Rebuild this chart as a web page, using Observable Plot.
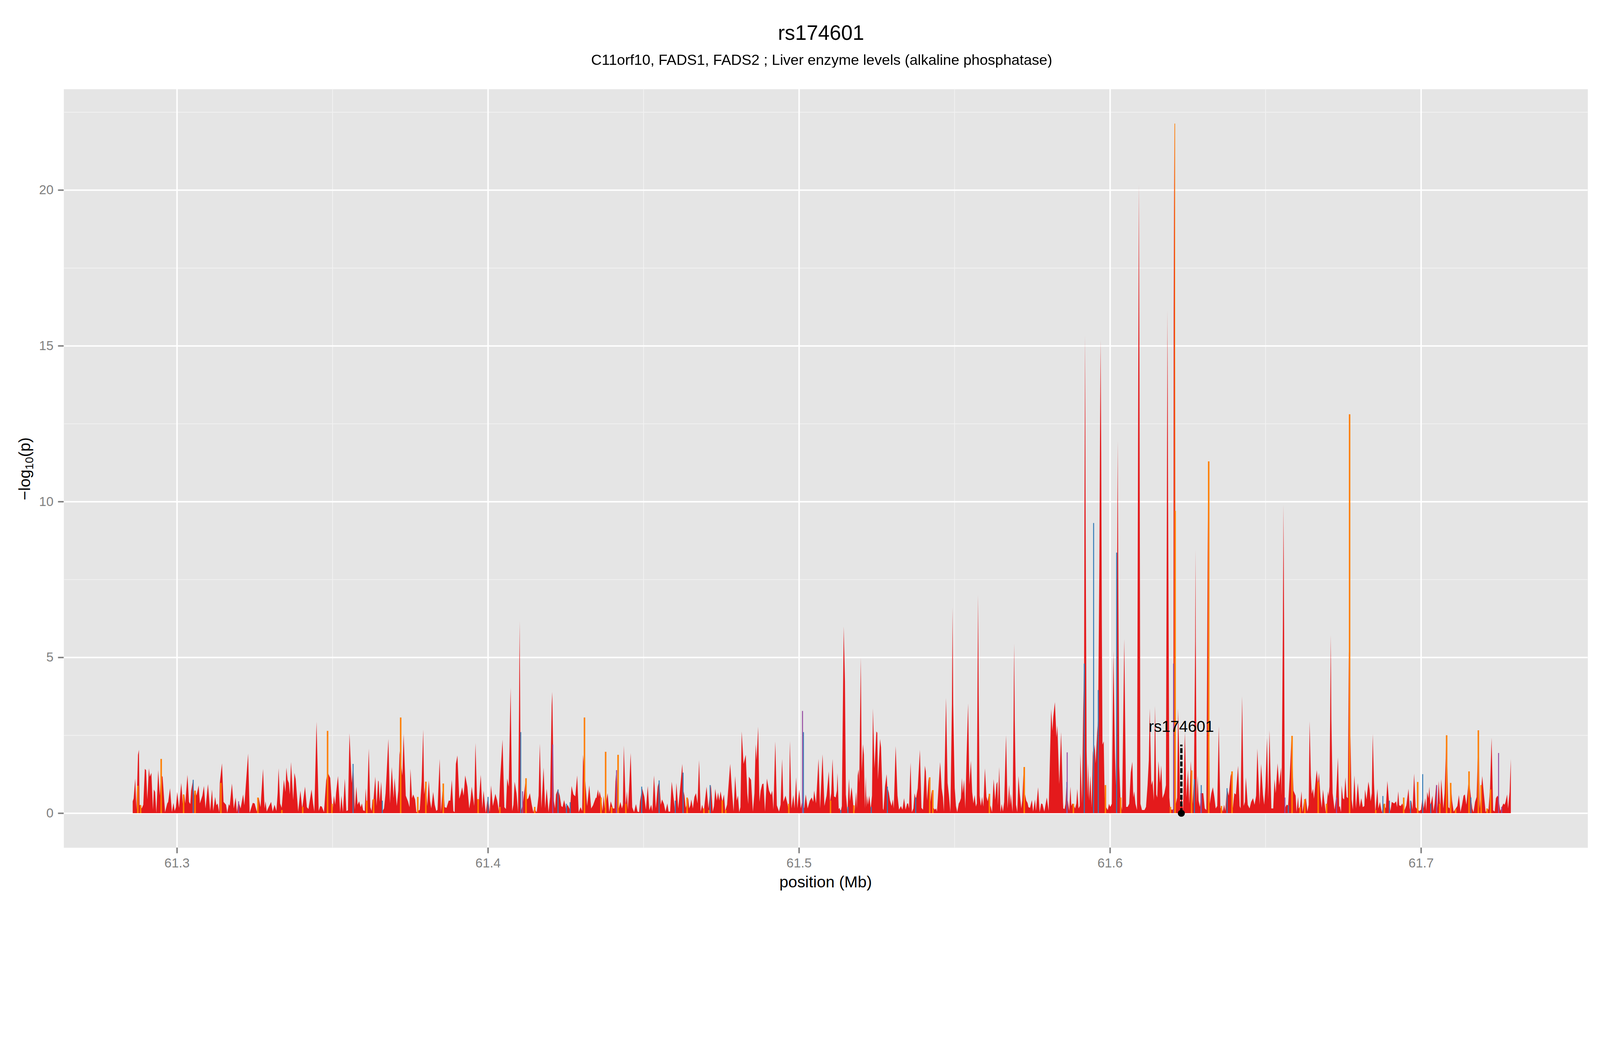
<!DOCTYPE html>
<html>
<head>
<meta charset="utf-8">
<script src="https://cdn.jsdelivr.net/npm/d3@7"></script>
<script src="https://cdn.jsdelivr.net/npm/@observablehq/plot@0.6"></script>
<style>
  html, body { margin: 0; padding: 0; overflow: hidden; background: white; font-family: "Liberation Sans", Arial, sans-serif; }
  #page { width: 4800px; height: 2700px; transform-origin: 0 0; }
  #head { position: relative; width: 4800px; height: 200px; }
  #head div { position: absolute; transform: translateX(-50%); white-space: nowrap; line-height: 1; color: black; }
  #title { left: 2463px; top: 68px; font-size: 62px; }
  #subtitle { left: 2465px; top: 157px; font-size: 44px; }
</style>
</head>
<body>
<div id="page">
  <div id="head">
    <div id="title">rs174601</div>
    <div id="subtitle">C11orf10, FADS1, FADS2 ; Liver enzyme levels (alkaline phosphatase)</div>
  </div>
  <div id="chart"></div>
</div>
<script>
// SNP positions (Mb) and -log10(p)
const redPos = [
  61.2858,61.2861,61.2866,61.2870,61.2875,61.2878,61.2880,61.2883,61.2887,61.2892,61.2897,61.2901,61.2905,61.2910,61.2913,61.2918,61.2923,61.2926,61.2930,61.2934,
  61.2940,61.2945,61.2949,61.2954,61.2962,61.2969,61.2972,61.2978,61.2984,61.2989,61.2993,61.2997,61.3001,61.3007,61.3014,61.3019,61.3024,61.3027,61.3034,61.3039,
  61.3043,61.3046,61.3052,61.3056,61.3059,61.3063,61.3070,61.3074,61.3082,61.3087,61.3092,61.3100,61.3107,61.3113,61.3117,61.3123,61.3127,61.3131,61.3136,61.3138,
  61.3145,61.3150,61.3158,61.3162,61.3167,61.3170,61.3177,61.3183,61.3189,61.3193,61.3198,61.3205,61.3213,61.3217,61.3229,61.3234,61.3244,61.3250,61.3257,61.3263,
  61.3269,61.3277,61.3282,61.3285,61.3289,61.3293,61.3303,61.3308,61.3314,61.3320,61.3324,61.3327,61.3332,61.3337,61.3344,61.3349,61.3352,61.3356,61.3360,61.3363,
  61.3367,61.3374,61.3378,61.3382,61.3390,61.3397,61.3403,61.3412,61.3418,61.3423,61.3433,61.3438,61.3442,61.3449,61.3456,61.3461,61.3466,61.3473,61.3480,61.3485,
  61.3493,61.3500,61.3505,61.3509,61.3512,61.3518,61.3525,61.3529,61.3534,61.3540,61.3545,61.3550,61.3555,61.3562,61.3567,61.3572,61.3577,61.3581,61.3586,61.3591,
  61.3595,
  61.3599,61.3604,61.3607,61.3611,61.3617,61.3622,61.3626,61.3629,61.3632,61.3638,61.3642,61.3647,61.3649,61.3652,61.3657,61.3661,61.3666,61.3671,61.3674,61.3680,
  61.3685,61.3691,61.3697,61.3700,61.3707,61.3712,61.3716,61.3725,61.3729,61.3736,61.3743,61.3748,61.3751,61.3756,61.3760,61.3766,61.3770,61.3781,61.3787,61.3792,
  61.3795,61.3800,61.3805,61.3810,61.3814,61.3818,61.3824,61.3829,61.3834,61.3838,61.3845,61.3849,61.3856,61.3861,61.3867,61.3874,61.3879,61.3884,61.3889,61.3893,
  61.3897,61.3902,61.3908,61.3913,61.3917,61.3922,61.3927,61.3934,61.3940,61.3944,61.3948,61.3956,61.3960,61.3965,61.3969,61.3977,61.3982,61.3986,61.3993,61.4000,
  61.4006,61.4010,61.4016,61.4024,61.4030,61.4035,61.4039,61.4047,61.4053,61.4058,61.4062,61.4067,61.4073,61.4078,61.4082,61.4086,61.4092,61.4097,61.4100,61.4102,61.4104,61.4106,
  61.4112,61.4122,61.4126,61.4130,61.4135,61.4141,61.4146,61.4149,61.4157,61.4163,61.4167,61.4172,61.4179,61.4184,61.4189,61.4195,61.4200,61.4205,61.4207,61.4212,
  61.4216,61.4219,61.4225,61.4231,61.4236,61.4240,61.4245,61.4251,61.4256,61.4260,61.4264,61.4269,61.4275,61.4281,61.4287,61.4292,61.4298,61.4303,61.4306,61.4315,
  61.4319,61.4326,61.4332,61.4338,61.4347,
  61.4349,61.4354,61.4357,61.4359,61.4364,61.4369,61.4372,61.4376,61.4385,61.4390,61.4395,61.4402,61.4407,61.4410,61.4413,61.4416,61.4421,61.4426,61.4431,61.4434,
  61.4437,61.4443,61.4447,61.4450,61.4455,61.4459,61.4464,61.4470,61.4476,61.4481,61.4486,61.4489,61.4496,61.4503,61.4508,61.4514,61.4519,61.4525,61.4529,61.4534,
  61.4540,61.4546,61.4551,61.4556,61.4560,61.4566,61.4571,61.4577,61.4581,61.4586,61.4591,61.4598,61.4602,61.4606,61.4612,61.4620,61.4625,61.4628,61.4632,61.4636,
  61.4644,61.4647,61.4651,61.4654,61.4659,61.4664,61.4669,61.4674,61.4679,61.4684,61.4689,61.4694,61.4703,61.4709,61.4717,61.4723,61.4727,61.4731,61.4736,61.4740,
  61.4744,61.4748,61.4754,61.4759,61.4763,61.4769,61.4779,61.4785,61.4790,61.4795,61.4800,61.4804,61.4808,61.4812,61.4816,61.4822,61.4829,61.4834,61.4837,61.4839,
  61.4846,61.4852,61.4857,61.4861,61.4864,61.4869,61.4873,61.4877,61.4882,61.4886,61.4891,61.4897,61.4904,61.4910,61.4914,61.4918,61.4924,61.4929,61.4936,61.4941,
  61.4946,61.4950,61.4957,61.4963,61.4968,61.4971,61.4976,61.4982,61.4986,61.4991,61.4995,61.5001,61.5006,61.5011,61.5017,61.5022,61.5028,61.5035,61.5041,61.5046,
  61.5049,61.5055,61.5063,61.5068,61.5076,61.5082,61.5089,61.5096,
  61.5100,61.5104,61.5108,61.5113,61.5118,61.5122,61.5124,61.5128,61.5131,61.5134,61.5138,61.5144,61.5148,61.5151,61.5156,61.5161,61.5164,61.5169,61.5171,61.5175,
  61.5179,61.5184,61.5186,61.5189,61.5192,61.5194,61.5199,61.5202,61.5206,61.5209,61.5212,61.5215,61.5217,61.5219,61.5222,61.5226,61.5231,61.5235,61.5238,61.5243,
  61.5249,61.5252,61.5254,61.5261,61.5264,61.5270,61.5272,61.5277,61.5282,61.5284,61.5289,61.5293,61.5298,61.5302,61.5305,61.5311,61.5317,61.5322,61.5328,61.5333,
  61.5338,61.5343,61.5348,61.5351,61.5354,61.5359,61.5363,61.5368,61.5372,61.5376,61.5382,61.5389,61.5394,61.5399,61.5405,61.5408,61.5412,61.5417,61.5423,61.5427,
  61.5431,61.5437,61.5441,61.5444,61.5449,61.5454,61.5459,61.5463,61.5466,61.5473,61.5478,61.5482,61.5487,61.5492,61.5494,61.5496,61.5501,61.5505,61.5509,61.5514,61.5517,61.5521,
  61.5524,61.5527,61.5531,61.5535,61.5539,61.5544,61.5548,61.5553,61.5557,61.5561,61.5565,61.5569,61.5572,61.5574,61.5576,61.5578,61.5581,61.5585,61.5589,61.5593,61.5598,61.5603,
  61.5607,61.5611,61.5614,61.5616,61.5621,61.5626,61.5631,61.5635,61.5638,61.5640,61.5644,61.5648,61.5652,61.5656,61.5660,61.5666,61.5671,61.5676,61.5679,61.5681,
  61.5687,61.5690,61.5692,61.5694,61.5698,61.5702,61.5706,61.5710,61.5715,61.5718,61.5723,61.5727,61.5731,61.5735,61.5738,61.5743,61.5749,61.5753,61.5759,61.5762,61.5769,61.5774,
  61.5779,61.5783,61.5789,61.5797,61.5803,61.5811,61.5815,61.5818,61.5823,61.5828,61.5831,61.5837,61.5843,61.5849,
  61.5850,61.5854,61.5857,61.5860,61.5862,61.5865,61.5869,61.5873,61.5876,61.5879,61.5883,61.5888,61.5892,61.5895,61.5899,61.5903,61.5905,61.5910,61.5914,61.5917,
  61.5918,61.5920,61.5922,61.5925,61.5928,61.5930,61.5933,61.5937,61.5941,61.5945,61.5947,61.5951,61.5954,61.5959,61.5962,61.5966,61.5968,61.5970,61.5972,61.5974,
  61.5976,61.5980,61.5983,61.5987,61.5993,61.5997,61.6001,61.6006,61.6011,61.6016,61.6019,61.6023,61.6025,61.6027,61.6030,61.6034,61.6039,61.6046,61.6052,61.6057,
  61.6062,61.6067,61.6072,61.6075,61.6078,61.6082,61.6087,61.6091,61.6093,61.6095,61.6098,61.6103,61.6111,61.6116,61.6121,61.6125,61.6128,61.6133,61.6137,61.6141,
  61.6145,61.6149,61.6152,61.6156,61.6161,61.6165,61.6169,61.6175,61.6180,61.6183,61.6185,61.6187,61.6191,61.6194,61.6200,61.6204,61.6205,61.6207,61.6209,61.6212,
  61.6216,61.6219,61.6223,61.6226,61.6230,61.6235,61.6241,61.6246,61.6251,61.6255,61.6260,61.6266,61.6270,61.6274,61.6275,61.6276,61.6279,61.6282,61.6285,61.6289,
  61.6294,61.6300,61.6305,61.6310,61.6313,61.6315,61.6317,61.6321,61.6326,61.6331,61.6336,61.6340,61.6345,61.6350,61.6355,61.6358,61.6363,61.6367,61.6371,61.6376,
  61.6382,61.6388,61.6392,61.6395,61.6400,61.6405,61.6412,61.6417,61.6420,61.6425,61.6430,61.6434,61.6437,61.6443,61.6449,61.6454,61.6460,61.6465,61.6470,61.6474,
  61.6481,61.6486,61.6492,61.6496,61.6500,61.6505,61.6509,61.6513,61.6519,61.6525,61.6529,61.6533,61.6539,61.6544,61.6550,61.6552,61.6556,61.6558,61.6560,61.6562,
  61.6568,61.6573,61.6578,61.6584,61.6590,61.6597,
  61.6600,61.6605,61.6607,61.6611,61.6616,61.6619,61.6624,61.6630,61.6635,61.6639,61.6642,61.6646,61.6649,61.6653,61.6656,61.6661,61.6665,61.6669,61.6672,61.6677,
  61.6681,61.6685,61.6689,61.6694,61.6696,61.6701,61.6703,61.6706,61.6708,61.6710,61.6712,61.6716,61.6722,61.6727,61.6733,61.6737,61.6739,61.6743,61.6745,61.6749,61.6753,61.6757,
  61.6761,61.6765,61.6768,61.6777,61.6781,61.6786,61.6791,61.6794,61.6797,61.6803,61.6808,61.6813,61.6818,61.6820,61.6825,61.6831,61.6835,61.6838,61.6842,61.6845,
  61.6849,61.6853,61.6860,61.6863,61.6868,61.6874,61.6880,61.6887,61.6892,61.6897,61.6902,61.6906,61.6914,61.6920,61.6923,61.6927,61.6930,61.6935,61.6940,61.6947,
  61.6953,61.6960,61.6964,61.6969,61.6973,61.6978,61.6983,61.6989,61.6995,61.7000,61.7005,61.7009,61.7014,61.7017,61.7020,61.7024,61.7027,61.7030,61.7033,61.7037,
  61.7040,61.7044,61.7049,61.7053,61.7057,61.7062,61.7065,61.7072,61.7076,61.7082,61.7088,61.7092,61.7096,61.7100,61.7105,61.7111,61.7117,61.7122,61.7127,61.7132,
  61.7137,61.7141,61.7146,61.7150,61.7154,61.7160,61.7165,61.7169,61.7174,61.7179,61.7185,61.7189,61.7193,61.7197,61.7202,61.7208,61.7213,61.7217,61.7222,61.7227,
  61.7232,61.7237,61.7241,61.7246,61.7249,61.7255,61.7260,61.7265,61.7269,61.7272,61.7277,61.7280,61.7285,61.7289
];
const redLogP = [
  0.38,0.47,1.11,0.11,1.87,2.03,0.25,0.27,0.15,0.27,1.42,1.38,0.44,1.44,1.17,1.29,0.11,0.76,0.68,0.01,
  1.38,0.56,1.21,1.17,0.03,0.31,0.36,0.80,0.03,0.33,0.07,0.19,0.68,0.17,0.97,0.31,0.60,0.31,1.23,0.36,
  0.29,0.72,1.07,0.56,0.74,0.56,0.89,0.31,0.56,0.87,0.15,0.93,0.07,0.76,0.07,0.52,0.25,0.31,0.03,0.97,
  1.60,0.36,0.27,0.01,0.29,0.23,0.95,0.15,0.50,0.03,0.38,0.15,0.60,0.25,1.91,0.01,0.33,0.31,0.05,0.50,
  0.19,1.42,0.15,0.38,0.05,0.15,0.36,0.05,0.27,0.07,0.64,1.44,0.31,0.17,1.07,0.68,1.46,1.07,0.97,0.60,
  1.64,0.42,1.29,1.09,0.05,0.72,0.15,0.85,0.19,0.13,0.76,0.31,0.05,2.93,0.07,0.23,0.21,0.03,1.05,1.30,
  1.13,0.03,0.56,0.27,0.66,1.19,0.03,0.56,0.03,1.11,0.07,0.09,2.56,0.97,1.58,0.11,0.85,0.27,0.38,0.19,
  0.31,
  0.09,0.07,0.80,0.03,2.07,0.19,0.07,0.44,0.40,1.17,0.23,1.05,1.01,0.36,1.01,0.07,0.15,0.64,1.19,2.38,
  0.31,1.48,0.48,1.13,0.23,0.72,1.99,1.21,2.54,0.56,0.38,0.19,1.42,0.48,0.60,0.44,0.03,0.11,1.01,2.68,
  0.60,1.01,0.23,1.05,0.40,0.15,0.68,0.27,0.07,0.11,1.74,0.03,0.95,0.19,0.17,0.40,0.40,1.07,0.07,0.03,
  1.58,1.85,0.46,0.64,0.83,0.56,1.21,0.85,0.15,0.40,0.85,0.23,2.25,0.52,0.11,1.23,0.15,0.72,0.01,0.52,
  0.03,0.89,0.23,0.62,0.40,0.07,1.01,2.36,0.19,0.13,1.11,0.85,4.03,0.07,0.27,1.01,0.64,0.03,3.20,6.16,3.20,0.07,
  0.27,1.09,0.44,0.48,0.64,0.27,0.03,0.15,0.03,0.56,2.23,0.15,1.46,0.15,0.78,0.03,0.52,3.46,3.89,0.40,
  0.15,0.60,0.76,0.56,0.23,0.19,0.42,0.15,0.27,0.19,0.11,0.87,0.60,0.54,1.21,0.03,0.19,0.07,1.87,0.76,
  0.23,0.89,0.15,0.25,0.50,
  0.48,0.76,0.52,0.70,0.48,0.07,0.56,0.15,0.64,0.03,0.38,0.15,0.15,1.01,1.38,0.90,0.15,0.36,0.15,0.27,
  2.17,0.23,0.70,0.11,0.99,1.93,0.19,0.03,0.29,0.05,0.03,0.38,0.80,0.52,0.11,0.87,0.09,0.27,0.05,1.21,
  0.15,0.85,1.05,0.27,0.44,0.29,0.05,0.31,0.05,0.05,1.01,0.40,0.05,0.97,0.15,1.01,1.58,0.76,0.56,0.17,
  0.48,0.15,0.25,0.44,0.15,0.52,0.64,0.31,1.70,0.05,0.27,0.05,0.85,0.15,0.91,0.05,0.23,0.78,0.40,0.66,
  0.40,0.70,0.36,0.60,0.07,0.27,1.58,0.68,0.05,1.19,0.40,0.56,0.03,0.19,2.62,1.58,1.87,0.64,0.29,1.17,
  1.07,0.05,0.64,2.21,1.70,2.77,0.36,0.72,0.93,0.95,0.05,1.11,0.72,0.58,0.72,0.11,2.30,0.25,0.05,0.27,
  1.74,0.36,0.56,0.31,0.03,2.32,0.15,0.58,0.15,1.15,0.15,0.76,0.15,0.40,0.15,0.60,0.15,0.40,0.50,0.36,
  0.72,0.31,1.74,0.15,1.89,0.23,0.56,1.34,
  0.36,0.64,1.74,0.54,0.50,0.72,1.29,0.13,0.17,0.03,0.23,5.99,4.24,0.60,0.05,1.11,0.38,0.83,0.68,0.23,
  0.05,0.68,0.15,1.21,1.40,0.97,4.99,1.34,2.21,1.87,0.15,1.17,0.19,0.56,0.27,0.56,0.15,0.56,3.36,1.44,
  2.62,2.58,1.07,2.38,2.11,0.15,0.09,0.87,1.25,0.85,0.66,0.40,0.23,0.44,0.15,2.15,0.56,0.11,0.23,0.11,
  0.48,0.11,0.31,0.31,0.15,1.62,0.03,0.15,0.64,0.44,0.80,2.03,0.17,0.11,1.52,1.34,0.40,1.15,0.36,0.74,
  0.19,0.11,0.15,0.05,0.85,1.64,0.80,0.52,0.05,3.70,0.97,0.60,0.03,3.50,6.60,3.50,0.80,0.23,0.03,0.31,0.36,0.48,
  1.13,0.64,1.07,0.15,1.79,3.52,0.91,1.68,0.68,0.31,0.58,0.21,0.31,3.80,7.00,3.80,0.56,0.23,0.52,0.21,1.44,0.52,
  0.38,0.62,0.07,0.25,0.03,1.09,0.42,0.93,1.01,0.25,1.48,0.03,0.29,0.05,0.36,2.50,0.15,0.91,0.25,0.62,
  0.03,3.00,5.44,3.00,0.27,0.03,1.19,0.64,0.15,0.40,1.48,0.60,0.40,0.33,0.19,0.17,0.42,0.05,0.44,0.07,0.83,0.03,
  0.31,0.29,0.05,0.50,0.07,3.34,2.64,3.11,3.56,2.44,2.81,0.93,2.60,0.36,
  0.15,0.13,0.29,0.85,0.50,0.36,0.07,0.85,0.23,0.31,0.27,0.15,0.31,0.78,0.15,0.23,1.93,0.31,3.26,4.80,
  9.50,15.33,9.00,2.00,0.50,1.60,0.40,1.20,0.20,2.00,1.80,2.20,1.60,2.60,3.00,8.00,12.00,15.18,11.50,6.00,
  2.20,2.30,0.50,0.20,0.10,0.30,0.20,0.30,5.20,2.00,0.90,7.50,11.95,7.00,1.50,0.40,0.10,5.59,0.20,0.20,
  0.30,1.30,1.65,0.50,0.70,0.30,0.10,14.00,20.18,14.00,0.30,0.10,0.10,0.20,0.90,1.70,3.36,0.90,1.05,0.40,
  3.44,0.60,0.50,1.67,0.97,1.53,0.48,0.64,0.90,10.00,16.14,10.00,0.50,0.15,0.10,0.15,16.00,22.13,16.00,0.30,
  0.50,3.36,1.80,0.15,0.60,0.10,2.60,0.50,1.40,0.30,1.67,0.30,1.05,5.50,8.46,5.50,0.30,1.20,0.40,0.20,
  0.64,0.64,0.15,0.10,6.00,10.00,6.00,0.30,0.64,0.83,0.50,0.15,0.23,2.79,0.15,0.23,0.05,0.27,0.07,0.80,
  0.56,1.19,1.34,0.15,0.64,0.60,1.52,0.23,0.15,3.75,0.23,0.36,1.15,0.27,0.15,0.36,0.48,0.27,0.56,2.07,
  0.27,1.58,0.60,0.27,0.85,2.42,0.44,2.66,0.15,0.15,1.09,0.64,1.60,0.89,1.46,0.56,6.00,9.90,6.00,0.15,
  0.27,0.25,1.17,2.48,0.72,0.56,
  0.03,0.52,0.15,0.19,0.70,0.03,0.36,0.48,0.05,0.27,2.95,1.21,0.62,0.78,0.46,0.99,1.38,0.93,1.29,0.52,
  0.17,0.76,0.40,0.03,0.11,0.70,0.54,0.85,3.00,5.71,3.00,0.64,0.11,0.48,1.79,0.19,0.23,0.03,0.89,0.48,0.44,1.15,
  0.52,0.48,5.18,0.44,0.11,1.21,0.15,0.56,0.97,0.19,0.48,0.19,0.23,0.76,0.44,1.01,0.76,0.38,0.64,2.54,
  0.97,0.03,0.78,0.15,0.36,0.03,0.31,0.15,1.03,0.40,0.07,0.36,0.31,0.38,0.19,0.70,0.25,0.23,0.31,0.09,
  0.25,0.78,0.11,0.40,0.11,1.27,0.19,0.11,0.07,0.11,0.50,0.15,0.48,0.07,0.68,0.48,0.85,0.27,0.36,0.56,
  0.07,0.31,0.93,0.15,1.03,0.15,1.09,0.15,0.64,2.52,0.19,0.15,0.97,0.40,0.05,0.13,0.23,0.58,0.03,0.27,
  0.56,0.60,0.27,0.68,1.10,0.56,0.15,0.03,0.36,0.52,2.66,0.15,0.64,1.19,0.64,0.03,0.15,0.11,0.76,2.42,
  0.09,0.05,0.48,0.56,0.50,0.07,0.19,0.31,0.27,0.36,0.60,0.15,0.68,1.74
];

const orangePos = [
  61.2874,61.2883,61.2949,61.3021,61.3058,61.3141,61.3260,61.3337,61.3404,61.3484,61.3498,61.3610,61.3632,61.3719,61.3774,
  61.3800,61.3856,61.3968,61.4038,61.4122,61.4150,61.4310,61.4363,61.4378,61.4397,61.4418,61.4443,61.4640,61.4694,61.4710,
  61.4753,61.4764,61.4967,61.5101,61.5176,61.5420,61.5430,61.5612,61.5724,61.5882,61.5985,61.6034,61.6194,61.6208,61.6209,
  61.6262,61.6317,61.6358,61.6392,61.6585,61.6611,61.6626,61.6669,61.6696,61.6770,61.6854,61.6882,61.6944,61.6989,61.7060,
  61.7082,61.7095,61.7111,61.7154,61.7184,61.7193,61.7212,61.7223
];
const orangeLogP = [
  0.88,0.25,1.74,0.60,0.72,0.97,0.50,0.10,0.20,2.64,0.30,0.40,0.45,3.07,0.52,
  1.01,0.95,0.45,0.20,1.12,0.20,3.07,0.50,1.97,0.20,1.87,0.30,0.50,0.15,0.10,
  0.40,0.10,0.30,0.40,0.25,1.15,0.74,0.62,1.48,0.30,0.90,0.50,0.20,22.13,9.70,
  1.37,11.29,0.23,1.34,2.48,0.20,0.45,1.00,0.30,12.80,0.10,0.30,0.50,1.00,0.30,
  2.50,0.97,0.13,1.34,2.66,0.90,0.15,0.76
];
const bluePos = [
  61.3052,61.3566,61.3660,61.4000,61.4105,61.4225,61.4252,61.4264,61.4494,61.4550,61.4602,61.4627,61.4714,61.5014,61.5134,
  61.5157,61.5232,61.5284,61.5375,61.5861,61.5917,61.5947,61.5962,61.6021,61.6271,61.6293,61.6376,61.6573,61.6877,61.6898,
  61.6966,61.7005,61.7031,61.7160
];
const blueLogP = [
  1.07,1.58,0.40,0.52,2.60,0.76,0.30,0.35,0.85,1.05,0.40,1.30,0.90,2.60,0.10,
  0.20,0.20,0.85,0.50,1.00,4.80,9.31,3.95,8.36,1.09,0.90,0.80,0.25,0.55,0.40,
  0.40,1.25,0.30,0.50
];
const purplePos = [61.3198,61.4111,61.4208,61.4413,61.5011,61.5862,61.6204,61.6292,61.6562,61.6728,61.7050,61.7249,61.7259];
const purpleLogP = [0.38,0.70,2.20,1.38,3.28,1.95,4.80,0.64,0.50,0.50,0.90,1.93,0.20];

// highlighted SNP
const leadSnp = "rs174601";
const leadPos = 61.6229;
const leadLineTop = 2.2;
const leadLabelY = 2.77;

// axes
const xMajor = [61.3, 61.4, 61.5, 61.6, 61.7];
const xMinor = [61.35, 61.45, 61.55, 61.65];
const yMajor = [0, 5, 10, 15, 20];
const yMinor = [2.5, 7.5, 12.5, 17.5, 22.5];
const xDomain = [61.2636, 61.7536];
const yDomain = [-1.106, 23.24];

const red = redPos.map((x, i) => ({x, y: redLogP[i]}));
const orange = orangePos.map((x, i) => ({x, y: orangeLogP[i]}));
const blue = bluePos.map((x, i) => ({x, y: blueLogP[i]}));
const purple = purplePos.map((x, i) => ({x, y: purpleLogP[i]}));

const grey = "#7F7F7F";

const chart = Plot.plot({
  width: 4800,
  height: 2500,
  marginTop: 67,
  marginBottom: 158,
  marginLeft: 191,
  marginRight: 37,
  style: {fontFamily: "Liberation Sans, Arial, sans-serif", background: "white"},
  x: {domain: xDomain},
  y: {domain: yDomain},
  marks: [
    Plot.frame({fill: "#E5E5E5", stroke: "none"}),
    Plot.ruleX(xMinor, {stroke: "#F2F2F2", strokeWidth: 2.2}),
    Plot.ruleY(yMinor, {stroke: "#F2F2F2", strokeWidth: 2.2}),
    Plot.ruleX(xMajor, {stroke: "white", strokeWidth: 4.4}),
    Plot.ruleY(yMajor, {stroke: "white", strokeWidth: 4.4}),
    Plot.areaY(red, {x: "x", y: "y", fill: "#E41A1C", curve: "linear"}),
    Plot.ruleX(orange, {x: "x", y1: 0, y2: "y", stroke: "#FF7F00", strokeWidth: d => d.y > 20 ? 2 : 4.5}),
    Plot.ruleX(blue, {x: "x", y1: 0, y2: "y", stroke: "#377EB8", strokeWidth: 3}),
    Plot.ruleX(purple, {x: "x", y1: 0, y2: "y", stroke: "#984EA3", strokeWidth: 3}),
    Plot.ruleX([leadPos], {x: d => d, y1: 0, y2: leadLineTop, stroke: "black", strokeWidth: 7, strokeDasharray: "15,5"}),
    Plot.dot([leadPos], {x: d => d, y: 0, r: 10.5, fill: "black", stroke: "none"}),
    Plot.text([leadSnp], {x: leadPos, y: leadLabelY, text: d => d, fontSize: 47, fill: "black", textAnchor: "middle", lineAnchor: "middle"}),
    Plot.axisX({ticks: xMajor, tickFormat: d => d.toFixed(1), tickSize: 17, tickPadding: 14, color: grey, strokeWidth: 4.4, fontSize: 39, label: null}),
    Plot.axisY({ticks: yMajor, tickFormat: d => String(d), tickSize: 17, tickPadding: 14, color: grey, strokeWidth: 4.4, fontSize: 39, label: null})
  ]
});

chart.style.maxWidth = "none";
chart.style.width = "4800px";
chart.style.height = "2500px";
chart.style.display = "block";
document.getElementById("chart").append(chart);

// axis titles, the y one with a subscript
const svg = d3.select(chart);
svg.append("text")
  .attr("x", 2477).attr("y", 2461)
  .attr("text-anchor", "middle")
  .attr("font-size", 48).attr("fill", "black")
  .text("position (Mb)");

const yl = svg.append("text")
  .attr("transform", "translate(90,1206) rotate(-90)")
  .attr("text-anchor", "middle")
  .attr("font-size", 48).attr("fill", "black");
yl.append("tspan").text("\u2212log");
yl.append("tspan").attr("font-size", 34).attr("dy", 10).text("10");
yl.append("tspan").attr("dy", -10).text("(p)");

// keep the 4800x2700 layout whole whatever the css width of the window
const page = document.getElementById("page");
const fit = () => {
  const s = document.documentElement.clientWidth / 4800;
  page.style.transform = `scale(${s})`;
};
fit();
window.addEventListener("resize", fit);
</script>
</body>
</html>
